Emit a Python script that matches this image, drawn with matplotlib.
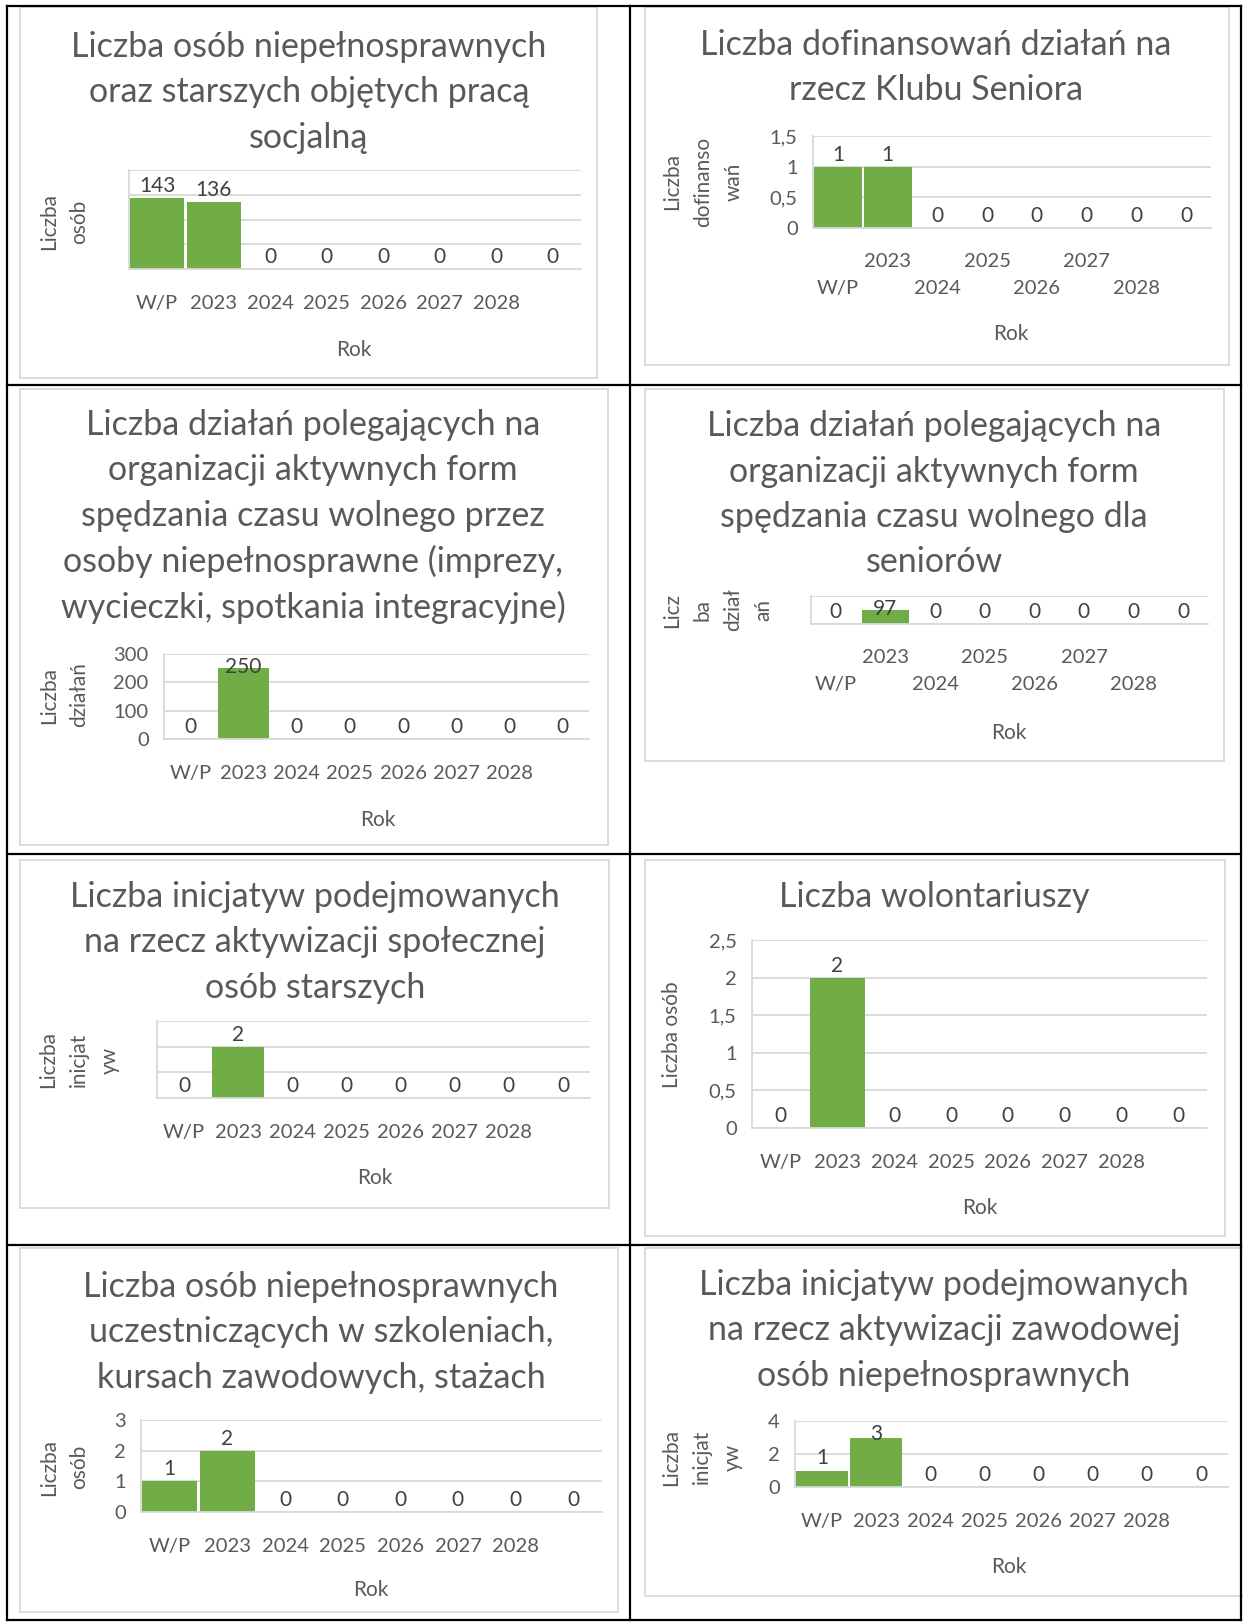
import matplotlib.pyplot as plt
from matplotlib.patches import Rectangle
from matplotlib.lines import Line2D

plt.rcParams['font.family'] = ['Lato', 'DejaVu Sans']

W, H = 1243, 1622
DPI = 100

# dane
categories = ['W/P', '2023', '2024', '2025', '2026', '2027', '2028', '']

values_1 = [143, 136, 0, 0, 0, 0, 0, 0]
values_2 = [1, 1, 0, 0, 0, 0, 0, 0]
values_3 = [0, 250, 0, 0, 0, 0, 0, 0]
values_4 = [0, 97, 0, 0, 0, 0, 0, 0]
values_5 = [0, 2, 0, 0, 0, 0, 0, 0]
values_6 = [0, 2, 0, 0, 0, 0, 0, 0]
values_7 = [1, 2, 0, 0, 0, 0, 0, 0]
values_8 = [1, 3, 0, 0, 0, 0, 0, 0]

titles = [
    ['Liczba osób niepełnosprawnych', 'oraz starszych objętych pracą', 'socjalną'],
    ['Liczba dofinansowań działań na', 'rzecz Klubu Seniora'],
    ['Liczba działań polegających na', 'organizacji aktywnych form',
     'spędzania czasu wolnego przez', 'osoby niepełnosprawne (imprezy,',
     'wycieczki, spotkania integracyjne)'],
    ['Liczba działań polegających na', 'organizacji aktywnych form',
     'spędzania czasu wolnego dla', 'seniorów'],
    ['Liczba inicjatyw podejmowanych', 'na rzecz aktywizacji społecznej', 'osób starszych'],
    ['Liczba wolontariuszy'],
    ['Liczba osób niepełnosprawnych', 'uczestniczących w szkoleniach,',
     'kursach zawodowych, stażach'],
    ['Liczba inicjatyw podejmowanych', 'na rzecz aktywizacji zawodowej',
     'osób niepełnosprawnych'],
]
y_titles = ['Liczba\nosób', 'Liczba\ndofinanso\nwań', 'Liczba\ndziałań',
            'Licz\nba\ndział\nań', 'Liczba\ninicjat\nyw', 'Liczba osób',
            'Liczba\nosób', 'Liczba\ninicjat\nyw']
x_title = 'Rok'

y_ticks = [[0, 50, 100, 150, 200], [0, 0.5, 1, 1.5], [0, 100, 200, 300], [0, 200],
           [0, 1, 2, 3], [0, 0.5, 1, 1.5, 2, 2.5], [0, 1, 2, 3], [0, 2, 4]]

all_values = [values_1, values_2, values_3, values_4,
              values_5, values_6, values_7, values_8]

# uklad w pikselach: ramka, obszar wykresu, tytul, os Y, "Rok"
layout = [
    dict(box=(20, 7, 597, 378), plot=(129, 170, 581, 269), tx=309, ty=47,
         yl=(64, 222), rok=(354, 350), stagger=False, ylab=False),
    dict(box=(645, 7, 1229, 365), plot=(813, 136, 1211, 228), tx=936, ty=45,
         yl=(703, 182), rok=(1011, 334), stagger=True, ylab=True),
    dict(box=(20, 389, 608, 845), plot=(164, 654, 589, 739), tx=313, ty=425,
         yl=(64, 695), rok=(378, 820), stagger=False, ylab=True),
    dict(box=(645, 389, 1224, 761), plot=(811, 596, 1208, 624), tx=934, ty=426,
         yl=(718, 610), rok=(1009, 733), stagger=True, ylab=False),
    dict(box=(20, 860, 609, 1208), plot=(157, 1021, 590, 1098), tx=315, ty=897,
         yl=(79, 1060), rok=(375, 1178), stagger=False, ylab=False),
    dict(box=(645, 860, 1225, 1236), plot=(752, 940, 1207, 1128), tx=934, ty=897,
         yl=(672, 1035), rok=(980, 1208), stagger=False, ylab=True),
    dict(box=(20, 1248, 618, 1612), plot=(141, 1420, 602, 1512), tx=321, ty=1287,
         yl=(64, 1467), rok=(371, 1590), stagger=False, ylab=True),
    dict(box=(645, 1248, 1250, 1596), plot=(795, 1421, 1228, 1487), tx=944, ty=1285,
         yl=(702, 1457), rok=(1009, 1567), stagger=False, ylab=True),
]

TXT = '#595959'
GRID = '#D9D9D9'
GREEN = '#70AD47'


def fx(x):
    return x / W


def fy(y):
    return 1 - y / H


fig = plt.figure(figsize=(W / DPI, H / DPI), dpi=DPI)

# tabela
for x in [7, 630, 1241]:
    fig.add_artist(Line2D([fx(x), fx(x)], [fy(6), fy(1620)], color='black', lw=1.6,
                          transform=fig.transFigure))
for y in [6, 385, 854, 1245, 1620]:
    fig.add_artist(Line2D([fx(7), fx(1241)], [fy(y), fy(y)], color='black', lw=1.6,
                          transform=fig.transFigure))

for k, lay in enumerate(layout):
    vals = all_values[k]
    bx0, by0, bx1, by1 = lay['box']
    fig.add_artist(Rectangle((fx(bx0), fy(by1)), (bx1 - bx0) / W, (by1 - by0) / H,
                             transform=fig.transFigure, fill=False, ec=GRID, lw=1.3))

    for j, line in enumerate(titles[k]):
        fig.text(fx(lay['tx']), fy(lay['ty'] + j * 45.5), line, ha='center', va='center',
                 fontsize=24.5, color=TXT)

    fig.text(fx(lay['yl'][0]), fy(lay['yl'][1]), y_titles[k], rotation=90, ha='center',
             va='center', multialignment='center', fontsize=15, color=TXT, linespacing=1.65)
    fig.text(fx(lay['rok'][0]), fy(lay['rok'][1]), x_title, ha='center', va='center',
             fontsize=15, color=TXT)

    px0, py0, px1, py1 = lay['plot']
    ax = fig.add_axes([fx(px0), fy(py1), (px1 - px0) / W, (py1 - py0) / H])
    ax.bar(range(len(categories)), vals, width=0.96, color=GREEN, zorder=2)
    ymax = y_ticks[k][-1]
    ax.set_xlim(-0.5, len(categories) - 0.5)
    ax.set_ylim(0, ymax)
    ax.set_yticks(y_ticks[k])
    if lay['ylab']:
        ax.set_yticklabels([f'{v:g}'.replace('.', ',') for v in y_ticks[k]])
    else:
        ax.set_yticklabels([])
    ax.yaxis.grid(True, color=GRID, lw=1.3)
    ax.set_axisbelow(True)
    for side in ['top', 'right']:
        ax.spines[side].set_visible(False)
    for side in ['left', 'bottom']:
        ax.spines[side].set_color(GRID)
        ax.spines[side].set_linewidth(1.3)

    ax.set_xticks(range(len(categories)))
    if lay['stagger']:
        labs = [('\n' + c) if i % 2 == 0 else (c + '\n') for i, c in enumerate(categories)]
        pad = 34
    else:
        labs = categories
        pad = 24.5
    ax.set_xticklabels(labs, fontsize=14.5, color=TXT, linespacing=1.75)
    for t in ax.get_xticklabels():
        t.set_va('center')
        t.set_multialignment('center')
    ax.tick_params(axis='x', length=0, pad=pad)
    ax.tick_params(axis='y', length=0, pad=11, labelsize=14.5, labelcolor=TXT)

    # etykiety danych (jak w Excelu: przy braku miejsca wewnatrz u gory)
    h_px = py1 - py0
    for i, v in enumerate(vals):
        if v / ymax * h_px + 22 > h_px:
            ax.annotate(f'{v}', (i, ymax), xytext=(0, -2), textcoords='offset points',
                        ha='center', va='top', fontsize=15, color='#404040', zorder=3)
        else:
            ax.annotate(f'{v}', (i, v), xytext=(0, 1.5), textcoords='offset points',
                        ha='center', va='bottom', fontsize=15, color='#404040', zorder=3)

fig.savefig('out.png', dpi=DPI)
